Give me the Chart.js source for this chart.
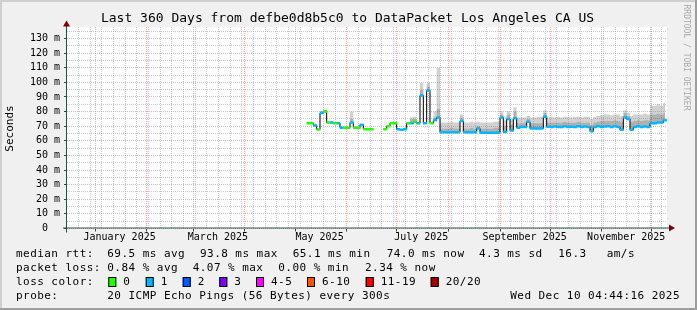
<!DOCTYPE html>
<html>
<head>
<meta charset="utf-8">
<script src="https://cdn.jsdelivr.net/npm/chart.js@4.4.1/dist/chart.umd.min.js"></script>
<style>
  html, body { margin: 0; padding: 0; background: #f0f0f0; }
</style>
</head>
<body>
<canvas id="smokeChart" width="697" height="310"></canvas>
<script>
// x values are days since 1 Jan 2025, one sample every 2 days
const days = [128,130,132,134,136,138,140,142,144,146,148,150,152,154,156,158,160,162,164,166,
  168,170,172,174,176,178,180,182,184,186,188,190,192,194,196,198,200,202,204,206,
  208,210,212,214,216,218,220,222,224,226,228,230,232,234,236,238,240,242,244,246,
  248,250,252,254,256,258,260,262,264,266,268,270,272,274,276,278,280,282,284,286,
  288,290,292,294,296,298,300,302,304,306,308,310,312,314,316,318,320,322,324,326,
  328,330,332,334,336,338,340,342];

// median rtt in ms
const median = [72,72,70.5,67.8,79,80,72.5,72.5,72,72,
  69,69,69,72.5,69,69,71,68,68,68,
  null,null,null,68,70,72,72,68,67.5,68,
  72,72,73,72,91,72,94.5,72,74,76,
  65.8,65.8,65.8,65.8,65.8,65.8,73.5,65.8,65.8,65.8,
  65.8,68.5,65.6,65.6,65.6,65.6,65.6,65.6,76,66,
  75,67,75.5,69,69.5,69.5,73,68.5,68.5,68.5,
  68.5,76.5,69.7,69.5,69.8,69.5,69.5,70,69.5,69.7,
  69.5,70,69.5,69.8,69.5,66.5,69.5,70,69.5,69.8,
  70,69.5,70,69.5,67.5,76,75,67.5,69.5,70,
  69.5,69.8,69.5,72,72,72.5,72.5,74];

// lost pings per sample (0 = green, 1 = light blue)
const loss = [0,0,1,0,1,0,0,1,0,1,
  1,0,0,1,0,0,1,0,0,0,
  null,null,null,0,0,0,0,1,1,1,
  0,1,0,1,1,1,1,0,1,1,
  1,1,1,1,1,1,1,1,1,1,
  1,1,1,1,1,1,1,1,1,1,
  1,1,1,1,1,1,1,1,1,1,
  1,1,1,1,1,1,1,1,1,1,
  1,1,1,1,1,1,1,1,1,1,
  1,1,1,1,1,1,1,1,1,1,
  1,1,1,1,1,1,1,1];

// dense smoke upper edge (ms)
const smokeHi = [72.4,72.4,70.9,68.2,80,80.6,72.9,72.9,72.4,72.4,
  69.4,69.4,69.4,75,69.4,69.4,71.4,68.4,68.4,68.4,
  null,null,null,68.4,70.4,72.6,72.4,68.4,67.9,68.4,
  72.6,75,75,72.6,95,72.6,97,72.6,76,82,
  68.5,68.5,68.5,69,68.5,68.5,76,68.5,68.5,69,
  68.5,70,68.5,68.5,68.5,68.5,69,69,78,70,
  78,71,80,72,72,72.5,75,72,72,72,
  72,79,72.5,72.5,72.5,72.5,72.5,73,72.5,72.5,
  72.5,73,72.5,72.5,72.5,71,72.5,73,73.5,73.5,
  73.5,73.5,74,73.5,73,79,77,73,73.5,74,
  73.5,74,74,78,78,78.5,78,79];

// slowest ping per sample (ms)
const smokeMax = [72.6,72.6,71.1,68.4,80.5,81,73.1,73.1,72.6,72.6,
  69.6,69.6,70,80,69.6,69.6,71.6,68.6,68.6,68.6,
  null,null,null,68.6,70.6,73,72.6,68.6,68.1,68.6,
  73,76,76.5,73,99.5,73,100,73,80,110,
  72.5,72.5,72.5,73,72.5,72.5,78,72.5,72.5,73,
  72.5,73,72.5,72.5,72.5,72.5,73,73,80,74,
  80,75,83,76,76,76,77,76,76,76.5,
  76.5,81,76,76.5,76,76.5,76,76.5,76.5,76,
  76.5,76.5,76,76.5,76.5,75,76.5,77,77.5,78,
  78,77.5,78,78,77,81,79,77,78,78,
  78,78.5,78,84,84,85,84,86];

// axes
const monthStarts = [0,31,59,90,120,151,181,212,243,273,304,334];
const monthLabels = ['January 2025','March 2025','May 2025','July 2025','September 2025','November 2025'];
const monthLabelDays = [14.75,73.75,134.75,195.75,257.75,318.75];
const weekLines = [-10,-3,4,11,18,25,32,39,46,53,60,67,74,81,88,95,102,109,116,123,130,137,144,
  151,158,165,172,179,186,193,200,207,214,221,228,235,242,249,256,263,270,277,284,291,298,305,
  312,319,326,333,340];
const yMajor = [0,10,20,30,40,50,60,70,80,90,100,110,120,130];
const yMinor = [5,15,25,35,45,55,65,75,85,95,105,115,125,135];

// legend texts
const rttStats = [['69.5 ms avg',107.3],['93.8 ms max',200],['65.1 ms min',292.7],['74.0 ms now',386.7],['4.3 ms sd',479],['16.3',558.3],['am/s',606.7]];
const lossStats = [['0.84 % avg',107.3],['4.07 % max',192.7],['0.00 % min',278.3],['2.34 % now',365]];
const lossNames = ['0','1','2','3','4-5','6-10','11-19','20/20'];
const lossColors = ['#26ff00','#00b8ff','#0059ff','#7e00ff','#ff00ff','#ff5500','#ff0000','#a10000'];
const lossBoxX = [108.3,145.7,182.7,219.3,256,307,365.7,430.7];

const W = 697, H = 310;
const GRID = 'rgba(150,150,150,0.5)';
const MGRID = 'rgba(255,110,110,0.6)';
const AXIS = '#2c4d43';
const MONO = '"DejaVu Sans Mono"';

const pts = ys => days.map((d, i) => ({ x: d, y: ys[i] }));
const lossPts = n => days.map((d, i) => ({ x: d, y: loss[i] === n ? median[i] : null }));

function put(ctx, s, x, y, size, opt) {
  opt = opt || {};
  ctx.font = size + 'px ' + MONO;
  ctx.fillStyle = opt.color || '#000';
  ctx.textAlign = opt.align || 'left';
  ctx.textBaseline = 'middle';
  ctx.letterSpacing = (opt.ls || 0) + 'px';
  ctx.fillText(s, x, y);
}

const rrdLook = {
  id: 'rrdLook',
  beforeDraw(chart) {
    const { ctx, chartArea: a } = chart;
    ctx.save();
    ctx.fillStyle = '#f0f0f0';
    ctx.fillRect(0, 0, W, H);
    ctx.fillStyle = '#cfcfcf';
    ctx.fillRect(0, 0, W, 2);
    ctx.fillRect(0, 0, 2, H);
    ctx.fillStyle = '#9e9e9e';
    ctx.fillRect(0, H - 2, W, 2);
    ctx.fillRect(W - 2, 0, 2, H);
    ctx.fillStyle = '#fff';
    ctx.fillRect(a.left, Math.floor(a.top), a.right - a.left, Math.ceil(a.bottom) - Math.floor(a.top));
    ctx.restore();
  },
  afterDatasetsDraw(chart) {
    const { ctx, chartArea: a } = chart;
    ctx.save();
    ctx.strokeStyle = AXIS;
    ctx.lineWidth = 1;
    ctx.beginPath();
    ctx.moveTo(a.left - 0.5, 24);
    ctx.lineTo(a.left - 0.5, a.bottom + 4);
    ctx.moveTo(a.left - 4, a.bottom - 0.5);
    ctx.lineTo(a.right + 4, a.bottom - 0.5);
    ctx.stroke();
    ctx.fillStyle = '#7f0000';
    ctx.beginPath();
    ctx.moveTo(a.left - 0.5, 20.5);
    ctx.lineTo(a.left - 4, 26.5);
    ctx.lineTo(a.left + 3, 26.5);
    ctx.closePath();
    ctx.fill();
    ctx.beginPath();
    ctx.moveTo(a.right + 8, a.bottom - 0.5);
    ctx.lineTo(a.right + 2, a.bottom - 4);
    ctx.lineTo(a.right + 2, a.bottom + 3);
    ctx.closePath();
    ctx.fill();
    ctx.restore();
  },
  afterDraw(chart) {
    const ctx = chart.ctx;
    ctx.save();
    put(ctx, 'Last 360 Days from defbe0d8b5c0 to DataPacket Los Angeles CA US', 347.5, 19, 13, { align: 'center' });

    ctx.save();
    ctx.translate(10.5, 128.5);
    ctx.rotate(-Math.PI / 2);
    put(ctx, 'Seconds', 0, 0, 11, { align: 'center' });
    ctx.restore();

    ctx.save();
    ctx.translate(686.5, 57.5);
    ctx.rotate(Math.PI / 2);
    put(ctx, 'RRDTOOL / TOBI OETIKER', 0, 0, 8, { align: 'center', color: '#a8a8a8' });
    ctx.restore();

    const ls = 0.45;
    put(ctx, 'median rtt:', 16, 254.5, 11, { ls });
    rttStats.forEach(([s, x]) => put(ctx, s, x, 254.5, 11, { ls }));
    put(ctx, 'packet loss:', 16, 268.3, 11, { ls });
    lossStats.forEach(([s, x]) => put(ctx, s, x, 268.3, 11, { ls }));
    put(ctx, 'loss color:', 16, 282, 11, { ls });
    lossNames.forEach((n, i) => {
      const bx = lossBoxX[i];
      ctx.fillStyle = lossColors[i];
      ctx.fillRect(bx, 277, 8, 10);
      ctx.strokeStyle = '#000';
      ctx.lineWidth = 1;
      ctx.strokeRect(bx + 0.5, 277.5, 7, 9);
      put(ctx, n, bx + 15, 282, 11, { ls });
    });
    put(ctx, 'probe:', 16, 296.5, 11, { ls });
    put(ctx, '20 ICMP Echo Pings (56 Bytes) every 300s', 107.3, 296.5, 11, { ls });
    put(ctx, 'Wed Dec 10 04:44:16 2025', 680, 296.5, 11, { ls, align: 'right' });
    ctx.restore();
  }
};

const xTickValues = Array.from(new Set([...weekLines, ...monthStarts, ...monthLabelDays])).sort((a, b) => a - b);
const isMonth = v => monthStarts.includes(v);
const isWeek = v => weekLines.includes(v);
const labelFor = v => {
  const i = monthLabelDays.indexOf(v);
  return i >= 0 ? monthLabels[i] : '';
};

new Chart(document.getElementById('smokeChart'), {
  type: 'line',
  data: {
    datasets: [
      {
        label: 'loss 0',
        data: lossPts(0),
        showLine: false,
        pointStyle: 'line',
        pointRadius: 1.9,
        pointBorderWidth: 2.5,
        pointBorderColor: lossColors[0],
        pointHoverRadius: 0
      },
      {
        label: 'loss 1',
        data: lossPts(1),
        showLine: false,
        pointStyle: 'line',
        pointRadius: 1.9,
        pointBorderWidth: 2.5,
        pointBorderColor: lossColors[1],
        pointHoverRadius: 0
      },
      {
        label: 'median',
        data: pts(median),
        borderColor: '#000',
        borderWidth: 1,
        stepped: 'middle',
        pointRadius: 0,
        fill: false
      },
      {
        label: 'smoke',
        data: pts(smokeHi),
        borderWidth: 0,
        borderColor: 'rgba(0,0,0,0)',
        stepped: 'middle',
        pointRadius: 0,
        fill: 2,
        backgroundColor: 'rgba(80,80,80,0.45)'
      },
      {
        label: 'smoke max',
        data: pts(smokeMax),
        borderWidth: 0,
        borderColor: 'rgba(0,0,0,0)',
        stepped: 'middle',
        pointRadius: 0,
        fill: 3,
        backgroundColor: 'rgba(140,140,140,0.4)'
      }
    ]
  },
  options: {
    responsive: false,
    devicePixelRatio: 1,
    animation: false,
    events: [],
    layout: { padding: { top: 27, right: 30, left: 0, bottom: 0 } },
    plugins: {
      legend: { display: false },
      tooltip: { enabled: false }
    },
    scales: {
      x: {
        type: 'linear',
        min: -16.8,
        max: 343.2,
        afterBuildTicks: s => { s.ticks = xTickValues.map(v => ({ value: v })); },
        afterFit: s => { s.height = 81.5; s.paddingLeft = 0; s.paddingRight = 0; },
        ticks: {
          autoSkip: false,
          maxRotation: 0,
          minRotation: 0,
          padding: 0,
          color: '#000',
          font: { family: 'DejaVu Sans Mono', size: 10 },
          callback: v => labelFor(v)
        },
        grid: {
          color: c => isMonth(c.tick.value) ? MGRID : (isWeek(c.tick.value) ? GRID : 'rgba(0,0,0,0)'),
          tickLength: 3,
          tickColor: c => isMonth(c.tick.value) ? AXIS : 'rgba(0,0,0,0)'
        },
        border: { display: false, dash: [1, 1] }
      },
      y: {
        min: 0,
        max: 137.9,
        afterBuildTicks: s => { s.ticks = [...yMajor, ...yMinor].sort((a, b) => a - b).map(v => ({ value: v })); },
        afterFit: s => { s.width = 67; s.paddingTop = 0; s.paddingBottom = 0; },
        ticks: {
          autoSkip: false,
          padding: 4,
          color: '#000',
          font: { family: 'DejaVu Sans Mono', size: 10 },
          callback: v => yMajor.includes(v) ? (v === 0 ? '0  ' : v + ' m') : ''
        },
        grid: {
          color: c => yMajor.includes(c.tick.value) ? MGRID : GRID,
          tickLength: 3,
          tickColor: c => yMajor.includes(c.tick.value) ? AXIS : 'rgba(0,0,0,0)'
        },
        border: { display: false, dash: [1, 1] }
      }
    }
  },
  plugins: [rrdLook]
});
</script>
</body>
</html>
